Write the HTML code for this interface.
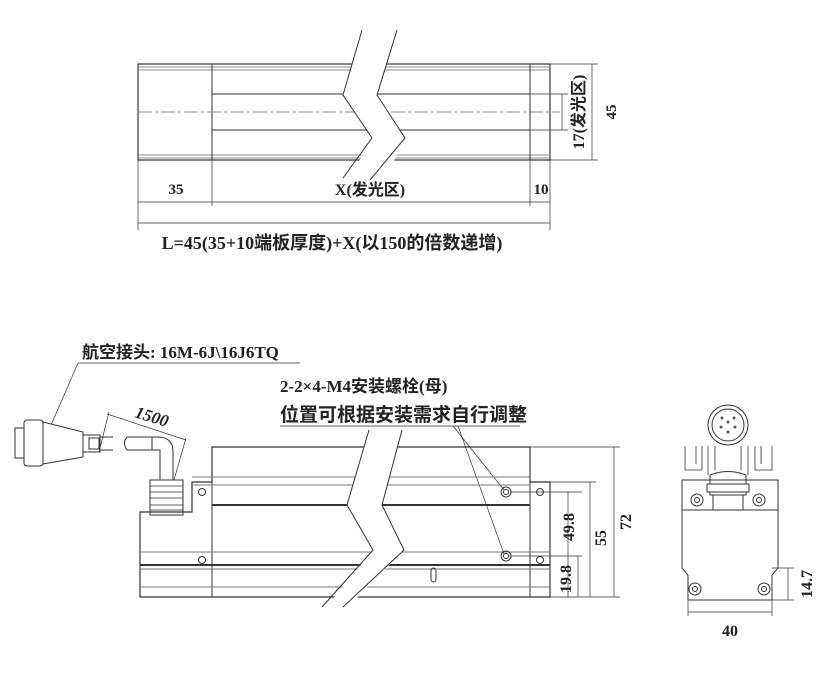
<!DOCTYPE html><html><head><style>body{margin:0;background:#fff}svg{display:block}text{font-family:"Liberation Serif","Noto Sans CJK SC",serif;font-weight:bold;fill:#222}</style></head><body>
<svg width="838" height="677" viewBox="0 0 838 677" xmlns="http://www.w3.org/2000/svg" fill="none" stroke="#333" stroke-width="1">
<!-- TOP VIEW -->
<rect x="138" y="64" width="412" height="96" stroke-width="1.2"/>
<line x1="138" y1="67" x2="550" y2="67" stroke="#888"/><line x1="138" y1="70" x2="550" y2="70" stroke="#888"/>
<line x1="138" y1="155" x2="550" y2="155" stroke="#888"/><line x1="138" y1="158" x2="550" y2="158" stroke="#888"/>
<line x1="212" y1="64" x2="212" y2="160"/><line x1="530" y1="64" x2="530" y2="160"/>
<line x1="212" y1="94" x2="530" y2="94"/><line x1="212" y1="130" x2="530" y2="130"/>
<line x1="138" y1="112" x2="560" y2="112" stroke="#888" stroke-dasharray="14,3,3,3"/>
<polygon points="362,30 397,30 377,95 405,138 380,190 343,190 372,138 343,95" fill="#fff" stroke="none"/>
<polyline points="362,30 343,95 372,138 343,178"/><polyline points="397,30 377,95 405,138 370,180"/>
<line x1="550" y1="64" x2="598" y2="64" stroke-width=".7"/><line x1="550" y1="160" x2="598" y2="160" stroke-width=".7"/>
<line x1="592" y1="64" x2="592" y2="160" stroke-width=".7"/>
<line x1="530" y1="94" x2="568" y2="94" stroke-width=".7"/><line x1="530" y1="130" x2="568" y2="130" stroke-width=".7"/>
<line x1="562" y1="94" x2="562" y2="130" stroke-width=".7"/>
<line x1="138" y1="160" x2="138" y2="230" stroke-width=".7"/><line x1="212" y1="160" x2="212" y2="206" stroke-width=".7"/>
<line x1="530" y1="160" x2="530" y2="206" stroke-width=".7"/><line x1="550" y1="160" x2="550" y2="230" stroke-width=".7"/>
<line x1="138" y1="202" x2="550" y2="202" stroke-width=".7"/><line x1="138" y1="223" x2="550" y2="223" stroke-width=".7"/>
<g stroke="none">
<text x="176" y="194" font-size="15" text-anchor="middle">35</text>
<text x="370" y="195" font-size="16" text-anchor="middle">X(发光区)</text>
<text x="541" y="194" font-size="15" text-anchor="middle">10</text>
<text x="332" y="249" font-size="18" text-anchor="middle">L=45(35+10端板厚度)+X(以150的倍数递增)</text>
<text transform="translate(584,112) rotate(-90)" font-size="16" text-anchor="middle">17(发光区)</text>
<text transform="translate(616,112) rotate(-90)" font-size="15" text-anchor="middle">45</text>
</g>
<!-- FRONT VIEW -->
<text x="82" y="358" font-size="17" stroke="none">航空接头: 16M-6J\16J6TQ</text>
<line x1="78" y1="363" x2="300" y2="363" stroke-width=".7"/>
<line x1="78" y1="363" x2="48" y2="432" stroke-width=".7"/>
<text x="280" y="392" font-size="17" stroke="none">2-2×4-M4安装螺栓(母)</text>
<text x="280" y="421" font-size="19" stroke="none">位置可根据安装需求自行调整</text>
<line x1="280" y1="426" x2="520" y2="426" stroke-width=".7"/>
<line x1="453" y1="426" x2="504" y2="490" stroke-width=".7"/><line x1="458" y1="426" x2="504" y2="554" stroke-width=".7"/>
<!-- connector -->
<rect x="15" y="428" width="10" height="30" fill="#fff"/>
<rect x="24" y="420" width="19" height="46" rx="3" fill="#fff"/>
<polygon points="43,422 83,432 83,457 43,464" fill="#fff"/>
<rect x="83" y="435" width="17" height="17" fill="#fff"/><rect x="89" y="438" width="10" height="11"/>
<path d="M100 437 H113 M100 450 H113"/>
<path d="M127 437 H158 Q173 437 173 452 V480 M127 450 H160 V480 M127 437 Q122 443 127 450"/>
<line x1="152" y1="437" x2="152" y2="450"/>
<rect x="150" y="480" width="33" height="35" fill="#fff"/>
<path d="M150 486 H183 M150 492 H183 M150 498 H183 M150 505 H183 M150 510 H183" stroke-width=".7"/>
<line x1="107" y1="414" x2="186" y2="440" stroke-width=".7"/>
<line x1="109" y1="412" x2="99" y2="452" stroke-width=".7"/><line x1="186" y1="438" x2="174" y2="480" stroke-width=".7"/>
<text transform="translate(134,417) rotate(17)" font-size="17" font-style="italic" stroke="none">1500</text>
<!-- body -->
<path d="M140 512 H192 V482 H212 V447 H530 V482 H550 V597 H140 Z" stroke-width="1.2"/>
<line x1="212" y1="447" x2="212" y2="597"/><line x1="530" y1="447" x2="530" y2="597"/>
<path d="M192 477 H530 M192 485 H530 M140 552 H550 M140 569 H550 M140 587 H550" stroke="#777"/>
<path d="M212 505 H530 M140 565 H550" stroke-width="2"/>
<circle cx="202" cy="492" r="3.5"/><circle cx="202" cy="560" r="3.5"/>
<circle cx="540" cy="492" r="3.5"/><circle cx="540" cy="560" r="3.5"/>
<circle cx="506" cy="492" r="5"/><circle cx="506" cy="492" r="2.5"/>
<circle cx="506" cy="556" r="5"/><circle cx="506" cy="556" r="2.5"/>
<rect x="431" y="568" width="5" height="14" rx="2.5"/>
<polygon points="369,430 402,430 382,505 404,550 343,612 322,612 373,550 347,505" fill="#fff" stroke="none"/>
<polyline points="369,430 347,505 373,550 322,607"/><polyline points="402,430 382,505 404,550 343,607"/>
<!-- dims -->
<g stroke-width=".7">
<line x1="530" y1="447" x2="620" y2="447"/><line x1="550" y1="482" x2="596" y2="482"/>
<line x1="510" y1="492" x2="582" y2="492"/><line x1="510" y1="556" x2="582" y2="556"/>
<line x1="550" y1="597" x2="620" y2="597"/>
<line x1="578" y1="556" x2="578" y2="597"/><line x1="568" y1="492" x2="568" y2="597"/>
<line x1="590" y1="482" x2="590" y2="597"/><line x1="614" y1="447" x2="614" y2="597"/>
</g>
<g stroke="none">
<text transform="translate(571,579) rotate(-90)" text-anchor="middle" font-size="16">19.8</text>
<text transform="translate(574,527) rotate(-90)" text-anchor="middle" font-size="16">49.8</text>
<text transform="translate(606,538) rotate(-90)" text-anchor="middle" font-size="16">55</text>
<text transform="translate(631,522) rotate(-90)" text-anchor="middle" font-size="16">72</text>
</g>
<!-- SIDE VIEW -->
<circle cx="728" cy="425" r="20"/><circle cx="728" cy="425" r="16"/>
<g fill="#555" stroke="none"><circle cx="728" cy="422" r="1.5"/><circle cx="722" cy="418" r="1.5"/><circle cx="734" cy="418" r="1.5"/><circle cx="721" cy="427" r="1.5"/><circle cx="735" cy="427" r="1.5"/><circle cx="728" cy="432" r="1.5"/></g>
<path d="M685 446 V470 H702 V446 M696 446 V464 M715 446 V470 M741 446 V470 M755 446 V470 H772 V446 M761 446 V464 M708 446 V475 M748 446 V475" stroke-width=".8"/>
<path d="M710 475 Q728 468 746 475 V495 H710 Z" fill="#fff"/>
<rect x="707" y="484" width="42" height="8" fill="#fff"/>
<path d="M682 480 H778 V568 L772 575 V600 H688 V575 L682 568 Z"/>
<line x1="682" y1="510" x2="778" y2="510"/><line x1="713" y1="495" x2="713" y2="510"/><line x1="743" y1="495" x2="743" y2="510"/>
<circle cx="697" cy="500" r="6"/><circle cx="697" cy="500" r="2.5"/><circle cx="759" cy="500" r="6"/><circle cx="759" cy="500" r="2.5"/>
<circle cx="695" cy="589" r="6"/><circle cx="695" cy="589" r="2.5"/><circle cx="764" cy="589" r="6"/><circle cx="764" cy="589" r="2.5"/>
<g stroke-width=".7">
<line x1="688" y1="600" x2="688" y2="616"/><line x1="772" y1="600" x2="772" y2="616"/>
<line x1="688" y1="612" x2="772" y2="612"/>
<line x1="772" y1="568" x2="794" y2="568"/><line x1="772" y1="600" x2="794" y2="600"/>
<line x1="788" y1="568" x2="788" y2="600"/>
</g>
<text x="730" y="636" font-size="16" text-anchor="middle" stroke="none">40</text>
<text transform="translate(812,584) rotate(-90)" font-size="16" text-anchor="middle" stroke="none">14.7</text>
</svg></body></html>
